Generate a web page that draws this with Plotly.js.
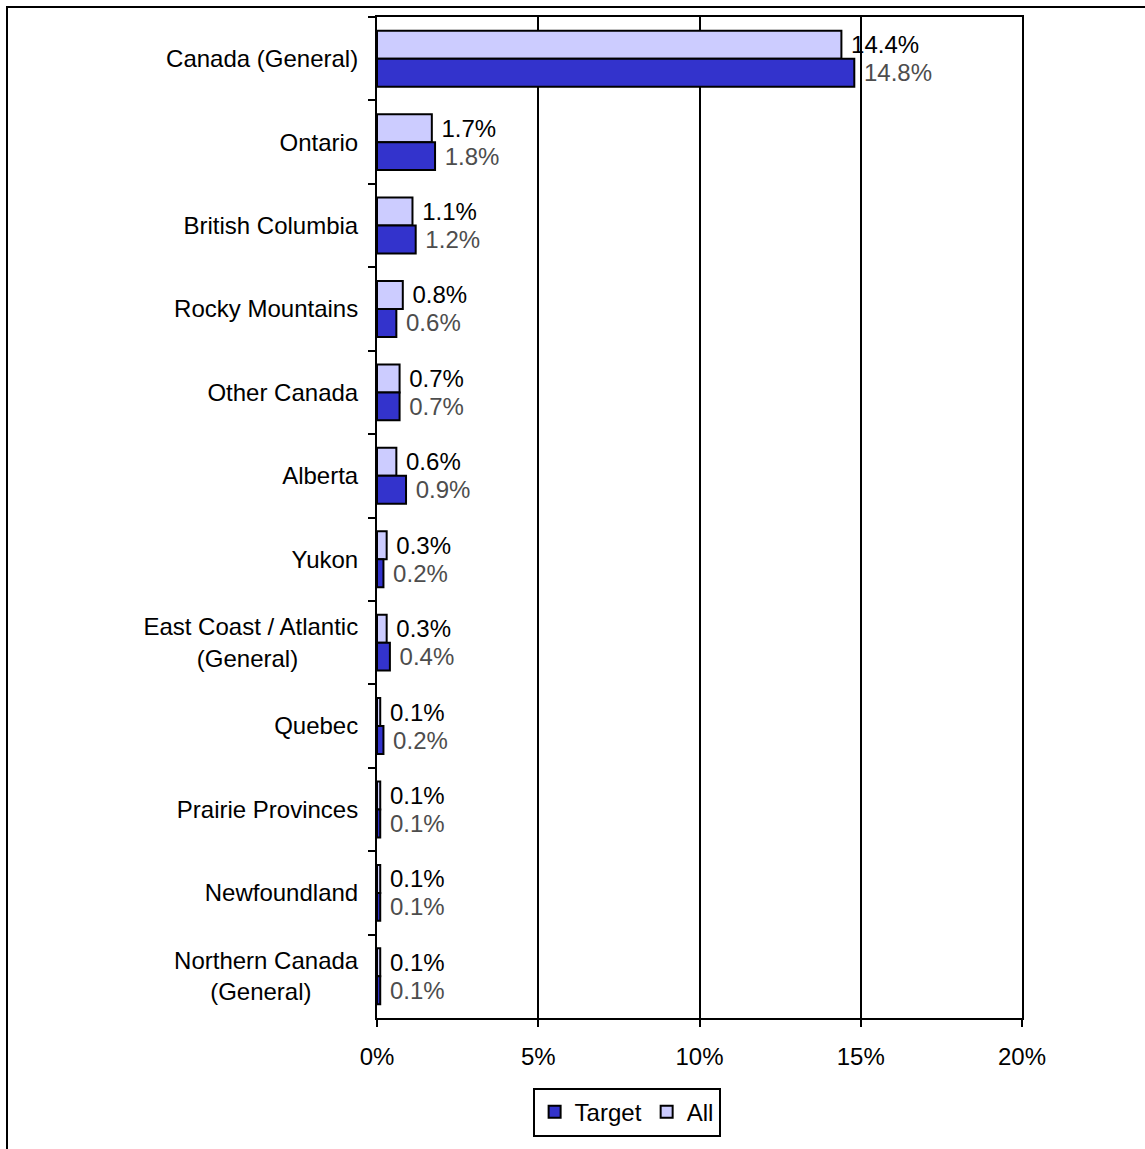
<!DOCTYPE html>
<html>
<head>
<meta charset="utf-8">
<script src="https://cdn.plot.ly/plotly-3.0.1.min.js"></script>
<style>
  html, body { margin: 0; padding: 0; background: #fff; }
  #wrap { position: relative; width: 1145px; height: 1149px; overflow: hidden; }
  #chart { position: absolute; left: 0; top: 0; width: 1145px; height: 1149px; }
  #frame { position: absolute; left: 6px; top: 6px; width: 1200px; height: 1200px;
           border-left: 2px solid #000; border-top: 2px solid #000; pointer-events: none; }
</style>
</head>
<body>
<div id="wrap">
  <div id="chart"></div>
  <div id="frame"></div>
</div>
<script>
const NB = '\u00A0';
const categories = [
  'Canada (General)',
  'Ontario',
  'British Columbia',
  'Rocky Mountains',
  'Other Canada',
  'Alberta',
  'Yukon',
  'East Coast / Atlantic<br>(General)' + NB.repeat(9),
  'Quebec',
  'Prairie Provinces',
  'Newfoundland',
  'Northern Canada<br>(General)' + NB.repeat(7)
];
const allValues    = [14.4, 1.7, 1.1, 0.8, 0.7, 0.6, 0.3, 0.3, 0.1, 0.1, 0.1, 0.1];
const targetValues = [14.8, 1.8, 1.2, 0.6, 0.7, 0.9, 0.2, 0.4, 0.2, 0.1, 0.1, 0.1];
const xTickValues  = [0, 5, 10, 15, 20];
const xTickLabels  = ['0%', '5%', '10%', '15%', '20%'];

const FONT = 'Arial, "Liberation Sans", sans-serif';
const FS = 24;

const traceAll = {
  type: 'bar', orientation: 'h', name: 'All',
  y: categories, x: allValues,
  marker: { color: '#CCCCFF', line: { color: '#000', width: 2 } },
  text: allValues.map(v => NB + v.toFixed(1) + '%'),
  textposition: 'outside', constraintext: 'none', cliponaxis: false,
  textfont: { family: FONT, size: FS, color: '#000' },
  hoverinfo: 'x+y+name'
};
const traceTarget = {
  type: 'bar', orientation: 'h', name: 'Target',
  y: categories, x: targetValues,
  marker: { color: '#3333CC', line: { color: '#000', width: 2 } },
  text: targetValues.map(v => NB + v.toFixed(1) + '%'),
  textposition: 'outside', constraintext: 'none', cliponaxis: false,
  textfont: { family: FONT, size: FS, color: '#4d4d4d' },
  hoverinfo: 'x+y+name'
};

const layout = {
  width: 1145, height: 1149,
  margin: { l: 377, r: 123, t: 17, b: 127, pad: 0 },
  paper_bgcolor: 'rgba(0,0,0,0)', plot_bgcolor: '#fff',
  font: { family: FONT, size: FS, color: '#000' },
  barmode: 'group', bargap: 0.33, bargroupgap: 0,
  showlegend: true,
  legend: {
    orientation: 'h', traceorder: 'reversed',
    x: 0.387, xanchor: 'center', y: -0.0697, yanchor: 'top',
    bordercolor: '#000', borderwidth: 2, bgcolor: '#fff',
    font: { family: FONT, size: FS, color: '#000' },
    itemwidth: 30
  },
  xaxis: {
    range: [0, 20], tickvals: xTickValues, ticktext: xTickLabels,
    showgrid: true, gridcolor: '#000', gridwidth: 2,
    zeroline: false, showline: true, linecolor: '#000', linewidth: 2, mirror: true,
    ticks: 'outside', ticklen: 7, tickwidth: 2, tickcolor: '#000',
    ticklabelstandoff: 9,
    tickfont: { family: FONT, size: FS, color: '#000' },
    fixedrange: true
  },
  yaxis: {
    type: 'category', autorange: 'reversed',
    showgrid: false, zeroline: false,
    showline: true, linecolor: '#000', linewidth: 2, mirror: true,
    ticks: 'outside', tickson: 'boundaries', ticklen: 7, tickwidth: 2, tickcolor: '#000',
    ticklabelstandoff: 12,
    tickfont: { family: FONT, size: FS, color: '#000' },
    fixedrange: true
  }
};

Plotly.newPlot('chart', [traceAll, traceTarget], layout, { displayModeBar: false, staticPlot: true });
</script>
</body>
</html>
